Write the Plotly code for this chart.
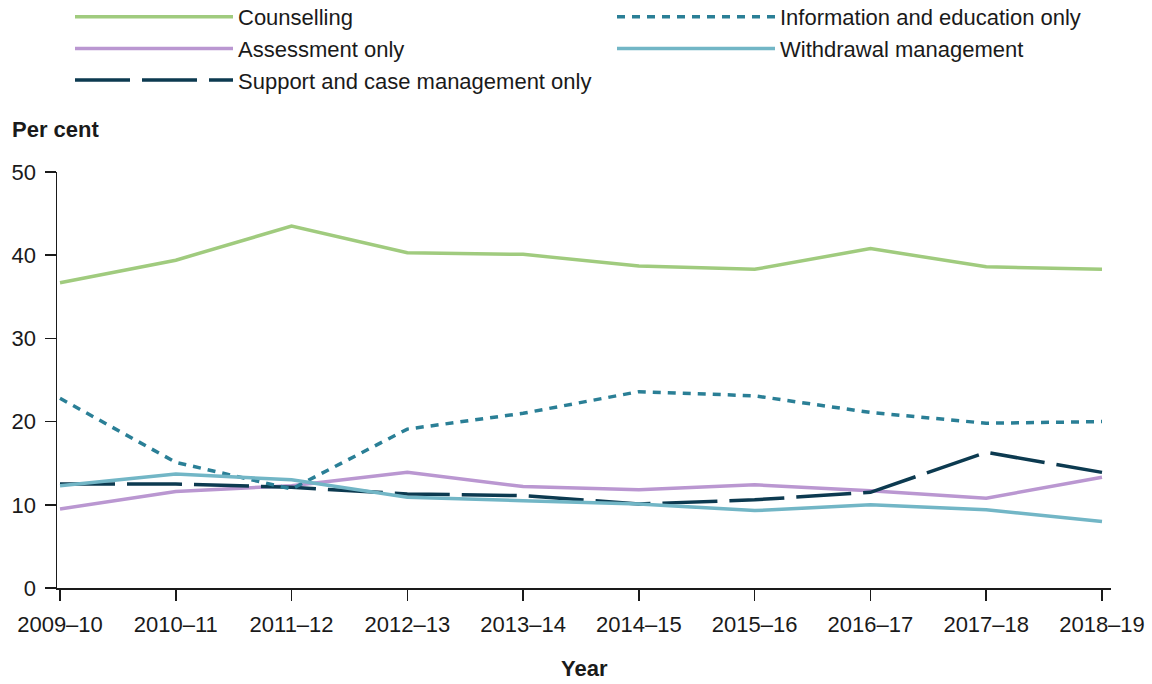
import plotly.graph_objects as go

years = ["2009–10", "2010–11", "2011–12", "2012–13", "2013–14",
         "2014–15", "2015–16", "2016–17", "2017–18", "2018–19"]

counselling = [36.7, 39.4, 43.5, 40.3, 40.1, 38.7, 38.3, 40.8, 38.6, 38.3]
information = [22.8, 15.1, 11.9, 19.1, 21.0, 23.6, 23.1, 21.1, 19.8, 20.0]
assessment = [9.5, 11.6, 12.3, 13.9, 12.2, 11.8, 12.4, 11.7, 10.8, 13.3]
withdrawal = [12.3, 13.7, 13.0, 10.9, 10.5, 10.1, 9.3, 10.0, 9.4, 8.0]
support = [12.5, 12.5, 12.1, 11.3, 11.1, 10.1, 10.6, 11.5, 16.3, 13.9]

xs = list(range(len(years)))
FONT = "Arial, 'Liberation Sans', sans-serif"

fig = go.Figure()
series = [
    ("Counselling", counselling, "#a0cb7e", "solid", "legend"),
    ("Assessment only", assessment, "#ba97d1", "solid", "legend"),
    ("Support and case management only", support, "#0c3a50", "55px,12px", "legend"),
    ("Information and education only", information, "#2a7f96", "8px,7px", "legend2"),
    ("Withdrawal management", withdrawal, "#72b6c6", "solid", "legend2"),
]
for name, vals, color, dash, leg in series:
    fig.add_trace(go.Scatter(
        x=xs, y=vals, name=name, mode="lines",
        line=dict(color=color, width=3.5, dash=dash),
        legend=leg, hoverinfo="skip",
    ))

W, H = 1152, 684
L, R, T, B = 57, 41, 172, 96
pw = W - L - R
ph = H - T - B

def px_x(p):
    return (p - L) / pw

def px_y(p):
    return (H - B - p) / ph

FS = 22

fig.update_layout(
    width=W, height=H,
    margin=dict(l=L, r=R, t=T, b=B, autoexpand=False),
    plot_bgcolor="white", paper_bgcolor="white",
    font=dict(family=FONT, size=FS, color="#1a1a1a"),
    showlegend=True,
    legend=dict(x=px_x(70), y=px_y(-4), xanchor="left", yanchor="top",
                orientation="v", itemwidth=158, bgcolor="rgba(0,0,0,0)",
                font=dict(size=FS), tracegroupgap=0),
    legend2=dict(x=px_x(612), y=px_y(-4), xanchor="left", yanchor="top",
                 orientation="v", itemwidth=158, bgcolor="rgba(0,0,0,0)",
                 font=dict(size=FS), tracegroupgap=0),
    xaxis=dict(
        range=[-3 / 115.8, 9 + 9 / 115.8],
        tickvals=xs, ticktext=years, automargin=False,
        showgrid=False, zeroline=False,
        showline=True, linecolor="#1a1a1a", linewidth=1.5,
        ticks="outside", ticklen=11, tickwidth=1.5, tickcolor="#1a1a1a",
        tickfont=dict(size=FS), ticklabelstandoff=5,
    ),
    yaxis=dict(
        range=[0, 50], tickvals=[0, 10, 20, 30, 40, 50], automargin=False,
        showgrid=False, zeroline=False,
        showline=True, linecolor="#1a1a1a", linewidth=1.5,
        ticks="outside", ticklen=11, tickwidth=1.5, tickcolor="#1a1a1a",
        tickfont=dict(size=FS), ticklabelstandoff=4,
    ),
    annotations=[
        dict(text="<b>Per cent</b>", xref="paper", yref="paper",
             x=px_x(10), y=px_y(130), xanchor="left", yanchor="middle",
             showarrow=False, font=dict(size=FS)),
        dict(text="<b>Year</b>", xref="paper", yref="paper",
             x=px_x(584), y=px_y(668), xanchor="center", yanchor="middle",
             showarrow=False, font=dict(size=FS)),
    ],
)

fig.write_html(
    "out.html",
    config={"displayModeBar": False, "staticPlot": True},
    post_script="document.body.style.margin='0px';document.body.style.overflow='hidden';",
)
